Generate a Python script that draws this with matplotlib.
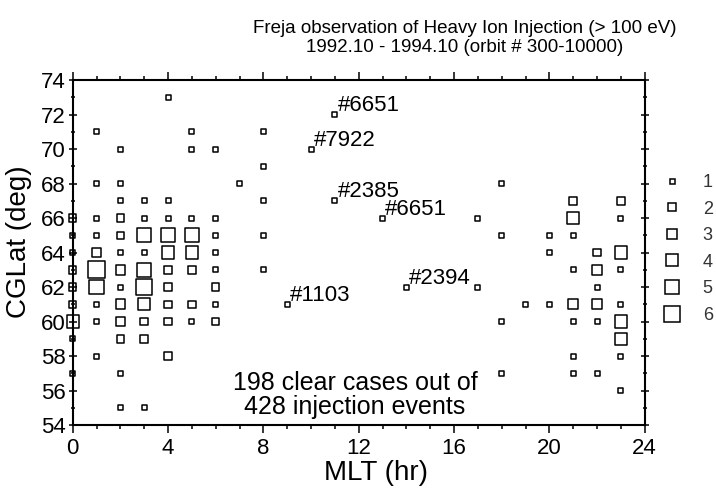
import matplotlib
matplotlib.use("Agg")
import matplotlib.pyplot as plt
from matplotlib.lines import Line2D
from matplotlib.ticker import MultipleLocator

# Freja heavy ion injection events: MLT (hr), CGLat (deg), number of cases
mlt = [0, 0, 0, 0, 0, 0, 0, 0, 0,
       1, 1, 1, 1, 1, 1, 1, 1, 1, 1,
       2, 2, 2, 2, 2, 2, 2, 2, 2, 2, 2, 2, 2,
       3, 3, 3, 3, 3, 3, 3, 3, 3, 3,
       4, 4, 4, 4, 4, 4, 4, 4, 4, 4,
       5, 5, 5, 5, 5, 5, 5, 5,
       6, 6, 6, 6, 6, 6, 6, 6,
       7, 8, 8, 8, 8, 8, 9, 10, 11, 11, 13, 14,
       17, 17, 18, 18, 18, 18, 19, 20, 20, 20,
       21, 21, 21, 21, 21, 21, 21, 21,
       22, 22, 22, 22, 22, 22,
       23, 23, 23, 23, 23, 23, 23, 23, 23]
lat = [66, 65, 64, 63, 62, 61, 60, 59, 57,
       71, 68, 66, 65, 64, 63, 62, 61, 60, 58,
       70, 68, 67, 66, 65, 64, 63, 62, 61, 60, 59, 57, 55,
       67, 66, 65, 64, 63, 62, 61, 60, 59, 55,
       73, 67, 66, 65, 64, 63, 62, 61, 60, 58,
       71, 70, 66, 65, 64, 63, 61, 60,
       70, 66, 65, 64, 63, 62, 61, 60,
       68, 71, 69, 67, 65, 63, 61, 70, 72, 67, 66, 62,
       66, 62, 68, 65, 60, 57, 61, 65, 64, 61,
       67, 66, 65, 63, 61, 60, 58, 57,
       64, 63, 62, 61, 60, 57,
       67, 66, 64, 63, 61, 60, 59, 58, 56]
count = [2, 1, 1, 2, 2, 2, 4, 1, 1,
         1, 1, 1, 1, 3, 6, 5, 1, 1, 1,
         1, 1, 1, 2, 2, 1, 3, 1, 3, 3, 2, 1, 1,
         1, 1, 5, 1, 5, 6, 4, 2, 2, 1,
         1, 1, 1, 5, 4, 2, 2, 2, 2, 2,
         1, 1, 1, 5, 4, 2, 2, 1,
         1, 1, 1, 1, 1, 2, 1, 2,
         1, 1, 1, 1, 1, 1, 1, 1, 1, 1, 1, 1,
         1, 1, 1, 1, 1, 1, 1, 1, 1, 1,
         2, 4, 1, 1, 3, 1, 1, 1,
         2, 3, 1, 3, 1, 1,
         2, 1, 4, 1, 1, 4, 4, 1, 1]

# labelled orbits
orb_mlt = [11, 10, 11, 13, 9, 14]
orb_lat = [72, 70, 67, 66, 61, 62]
orb_txt = ["#6651", "#7922", "#2385", "#6651", "#1103", "#2394"]

legend_labels = ["1", "2", "3", "4", "5", "6"]
side_pt = [3.6, 5.4, 6.9, 8.7, 10.4, 11.9]   # square side per count

plt.rcParams["font.family"] = ["Liberation Sans", "DejaVu Sans"]

fig = plt.figure(figsize=(7.16, 4.93), dpi=100)
ax = fig.add_axes([72.7 / 716, 1 - 425 / 493, 572 / 716, 345 / 493])

sizes = [side_pt[c - 1] ** 2 for c in count]
ax.scatter(mlt, lat, s=sizes, marker="s", facecolors="none",
           edgecolors="black", linewidths=1.1, clip_on=False, zorder=3)

for x, y, t in zip(orb_mlt, orb_lat, orb_txt):
    ax.annotate(t, (x, y), xytext=(2, 2.5), textcoords="offset points",
                ha="left", va="baseline", fontsize=16)

ax.text(11.85, 55.75, "198 clear cases out of\n428 injection events",
        ha="center", va="center", fontsize=18, linespacing=1.0)

ax.set_xlim(0, 24)
ax.set_ylim(54, 74)
ax.xaxis.set_major_locator(MultipleLocator(4))
ax.xaxis.set_minor_locator(MultipleLocator(1))
ax.yaxis.set_major_locator(MultipleLocator(2))
ax.yaxis.set_minor_locator(MultipleLocator(1))
ax.tick_params(axis="x", which="both", direction="out", top=True,
               labelsize=16, width=1.1, pad=3)
ax.tick_params(axis="y", which="both", direction="inout", right=True,
               labelsize=16, width=1.1, pad=2)
ax.tick_params(which="major", length=6)
ax.tick_params(which="minor", length=3)
for sp in ax.spines.values():
    sp.set_linewidth(1.5)

ax.set_xlabel("MLT (hr)", fontsize=20)
ax.xaxis.set_label_coords(0.530, -0.10)
ax.set_ylabel("CGLat (deg)", fontsize=20)
ax.yaxis.set_label_coords(-0.072, 0.53)

handles = [Line2D([], [], marker="s", ls="", mfc="none", mec="black",
                  mew=1.1, ms=s) for s in side_pt]
fig.legend(handles, legend_labels, loc="upper left",
           bbox_to_anchor=(663 / 716, 1 - 174 / 493),
           bbox_transform=fig.transFigure, frameon=False, fontsize=13,
           handlelength=1.0, handletextpad=1.2, labelspacing=0.53,
           borderpad=0, borderaxespad=0, labelcolor="#333333")

fig.text(465 / 716, 1 - 38 / 493,
         "Freja observation of Heavy Ion Injection (> 100 eV)\n"
         "1992.10 - 1994.10 (orbit # 300-10000)",
         ha="center", va="center", fontsize=13.5, linespacing=1.2)

fig.savefig("out.png", dpi=100)
